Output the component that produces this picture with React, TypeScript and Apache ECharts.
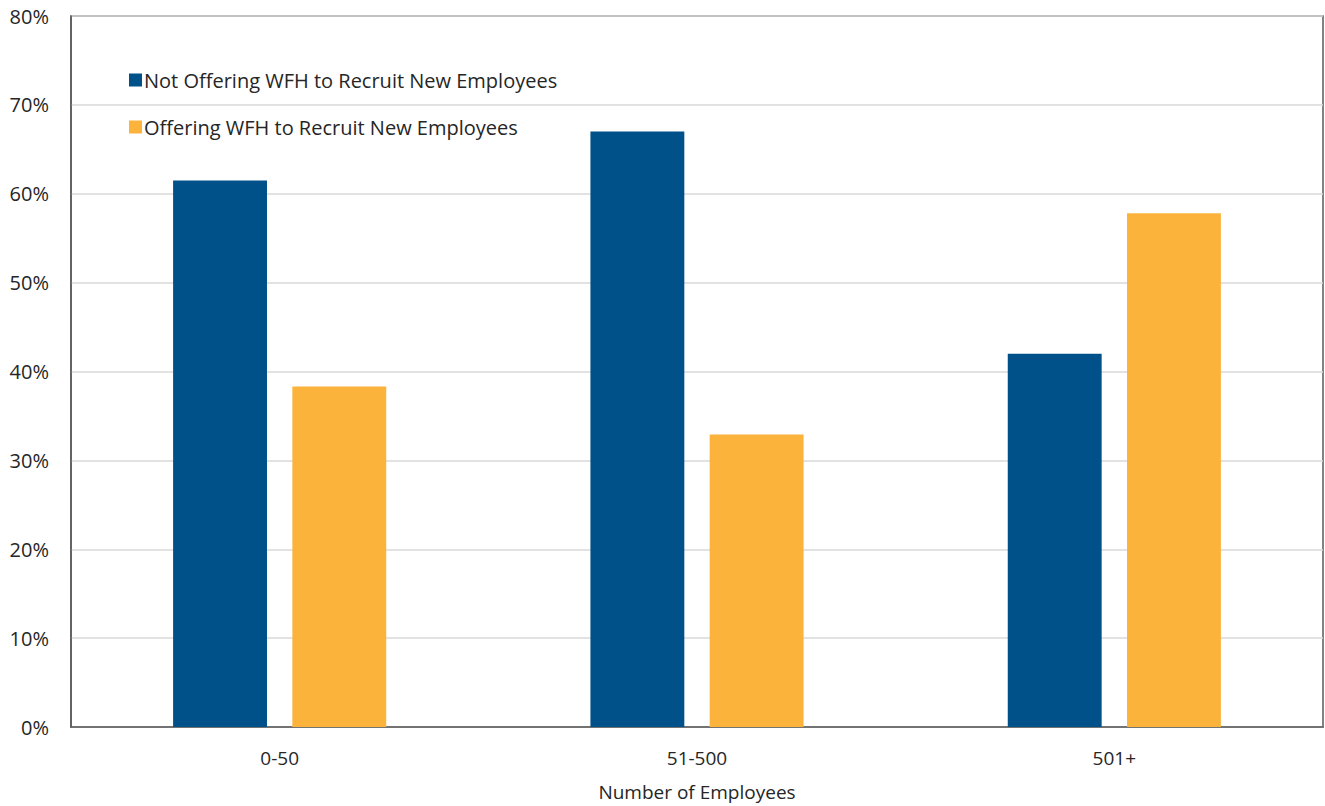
import React, { useEffect, useRef } from "react";
import * as echarts from "echarts";

const categories = ["0-50", "51-500", "501+"];
const notOffering = [61.5, 67.0, 42.0];
const offering = [38.3, 32.9, 57.8];
const seriesNames = [
  "Not Offering WFH to Recruit New Employees",
  "Offering WFH to Recruit New Employees",
];
const yTicks = { min: 0, max: 80, interval: 10 };
const xAxisName = "Number of Employees";

const FONT = "Open Sans";
const TEXT = "#262626";

export default function App() {
  const ref = useRef<HTMLDivElement>(null);
  useEffect(() => {
    document.body.style.margin = "0";
    const chart = echarts.init(ref.current!, null, { renderer: "svg" });
    chart.setOption({
      animation: false,
      backgroundColor: "#ffffff",
      textStyle: { fontFamily: FONT },
      grid: {
        left: 71,
        right: 2,
        top: 16,
        bottom: 78,
        show: true,
        borderColor: "#595959",
        borderWidth: 1.5,
        containLabel: false,
      },
      legend: {
        orient: "vertical",
        left: 124,
        top: 65,
        itemWidth: 13,
        itemHeight: 13,
        itemGap: 27,
        icon: "rect",
        textStyle: { fontFamily: FONT, fontSize: 20, color: TEXT, padding: [0, 0, 0, -3] },
        data: seriesNames,
      },
      xAxis: {
        type: "category",
        data: categories,
        name: xAxisName,
        nameLocation: "middle",
        nameGap: 55,
        nameTextStyle: { fontFamily: FONT, fontSize: 19, color: TEXT },
        axisLine: { lineStyle: { color: "#595959", width: 1.5 } },
        axisTick: { show: false },
        axisLabel: { fontFamily: FONT, fontSize: 19, color: TEXT, margin: 21 },
      },
      yAxis: {
        type: "value",
        min: yTicks.min,
        max: yTicks.max,
        interval: yTicks.interval,
        axisLine: { show: true, lineStyle: { color: "#595959", width: 1.5 } },
        axisTick: { show: false },
        splitLine: { lineStyle: { color: "#d9d9d9", width: 1.5 } },
        axisLabel: {
          fontFamily: FONT,
          fontSize: 20,
          color: TEXT,
          margin: 22,
          formatter: (v: number) => `${v}%`,
        },
      },
      series: [
        {
          name: seriesNames[0],
          type: "bar",
          data: notOffering,
          barWidth: "22.5%",
          barGap: "27%",
          itemStyle: { color: "#00508A" },
        },
        {
          name: seriesNames[1],
          type: "bar",
          data: offering,
          barWidth: "22.5%",
          itemStyle: { color: "#FBB33B" },
        },
      ],
    });
    return () => chart.dispose();
  }, []);
  return (
    <div
      ref={ref}
      style={{ position: "fixed", left: 0, top: 0, width: 1325, height: 806 }}
    />
  );
}
